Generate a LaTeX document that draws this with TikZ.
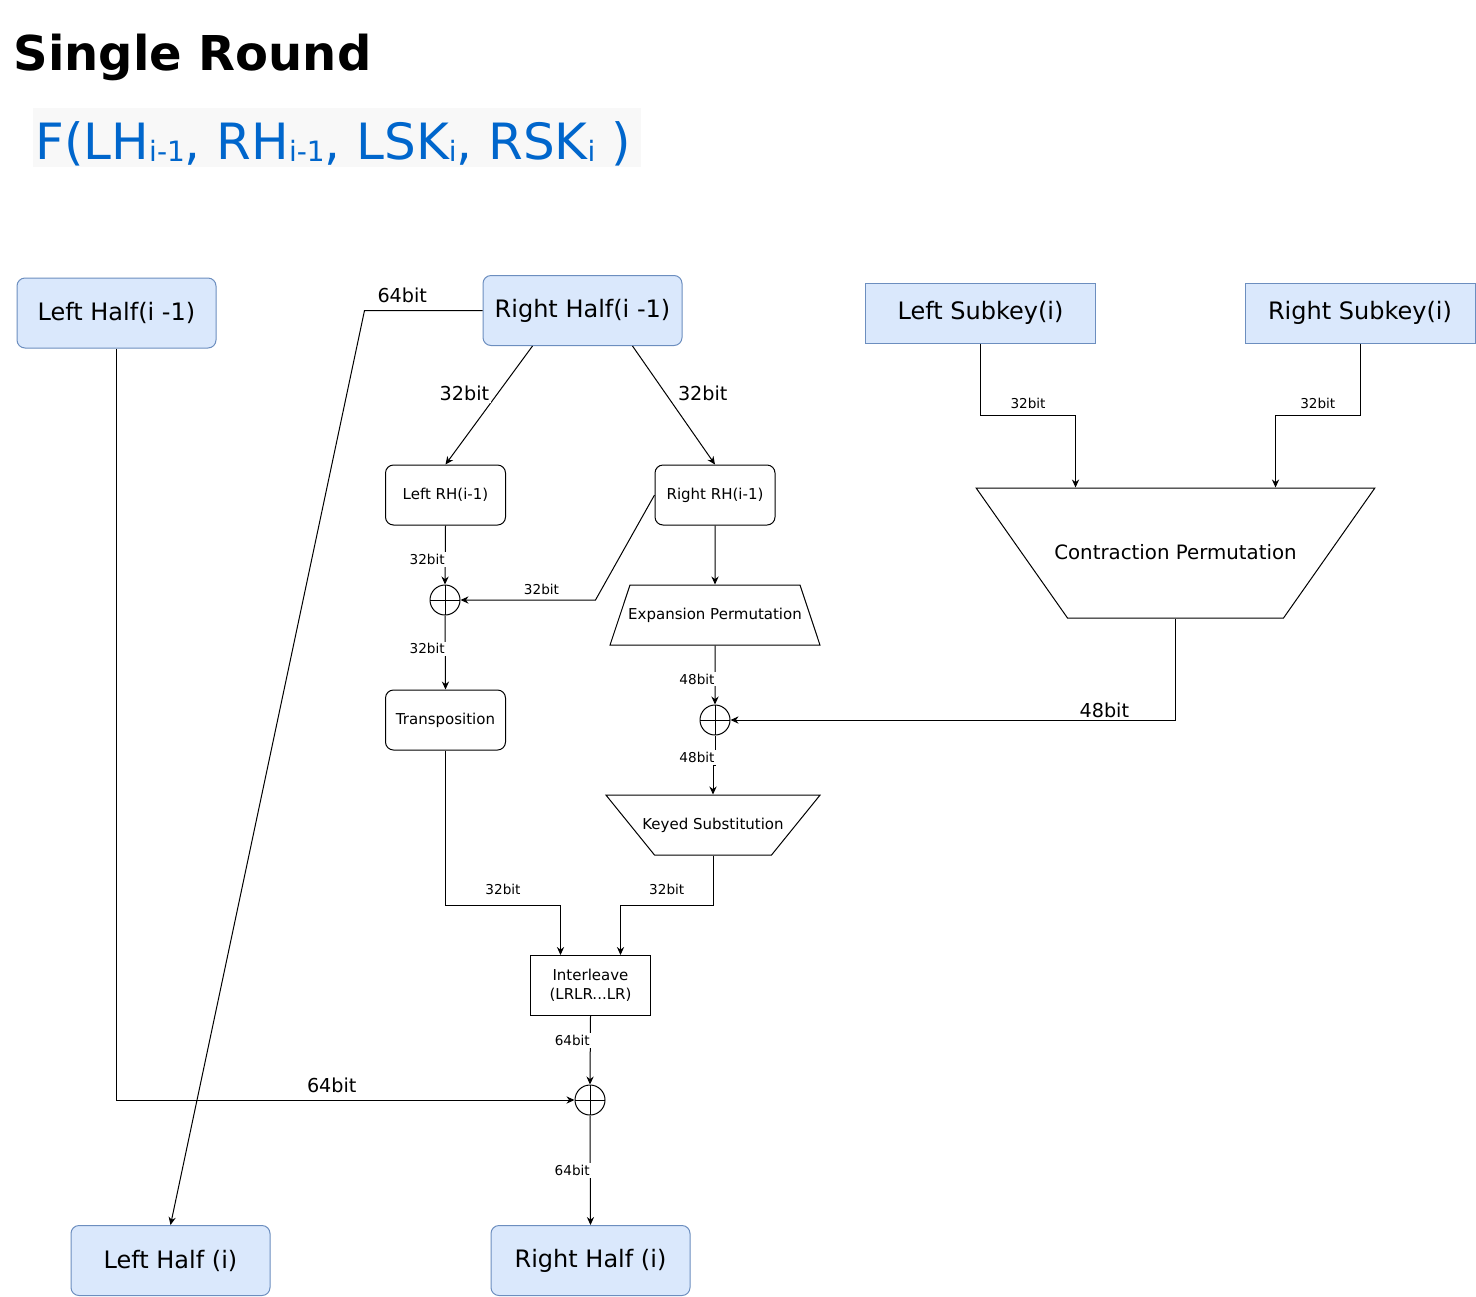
\documentclass[tikz,border=0pt]{standalone}
\usepackage{fontspec}
\setmainfont{DejaVu Sans}
\usepackage{xcolor}
\usepackage{tikz}
\usetikzlibrary{arrows.meta,positioning,calc,shapes.geometric}
\definecolor{srBlue}{HTML}{0066CC}
\definecolor{srFill}{HTML}{DAE8FC}
\definecolor{srEdge}{HTML}{6C8EBF}
\definecolor{srPaper}{HTML}{F8F8F8}
\newcommand{\sbs}[1]{\raisebox{-1pt}{\fontsize{14}{14}\selectfont #1}}
\newcommand{\permtext}[4]{\makebox[#1]{\rule[#2]{0pt}{#3}#4}}
\tikzset{
  half box/.style={draw=srEdge,fill=srFill,rounded corners=4pt,minimum width=99.5pt,minimum height=35pt,
    inner sep=0pt,font=\fontsize{12}{14}\selectfont},
  key box/.style={half box,rounded corners=0pt,minimum width=115pt,minimum height=30pt},
  stage box/.style={draw,rounded corners=4pt,minimum width=60pt,minimum height=30pt,inner sep=0pt,
    align=center,font=\fontsize{7.5}{9.5}\selectfont},
  perm box/.style={draw,trapezium,inner sep=0pt,font=\fontsize{7.5}{9}\selectfont},
  xor op/.style={draw,circle,minimum size=15pt,inner sep=0pt,path picture={
    \draw (path picture bounding box.north) -- (path picture bounding box.south)
          (path picture bounding box.west) -- (path picture bounding box.east);}},
  bit small/.style={font=\fontsize{6.8}{8}\selectfont,inner sep=1pt,fill=white},
  bit large/.style={font=\fontsize{9.6}{11}\selectfont,inner sep=1pt,fill=white},
  diagram arrow/.style={-{Stealth[length=4pt,width=3.6pt]}}
}
\begin{document}
\begin{tikzpicture}[x=0.5pt,y=-0.5pt,line width=0.5pt]
\useasboundingbox (0,0) rectangle (1476,1296);
\fill[srPaper] (33,108) rectangle (641,167);
\node[anchor=base west,inner sep=0pt,font=\fontsize{24}{28}\selectfont\bfseries] (title) at (13,70) {Single Round};
\node[anchor=base west,inner sep=0pt,text=srBlue,font=\fontsize{25}{30}\selectfont] (func) at (35,159)
  {F(LH\sbs{i-1}, RH\sbs{i-1}, LSK\sbs{i}, RSK\sbs{i} )};
\node[half box] (lh) at (116.5,313) {Left Half(i -1)};
\node[half box] (rh) at (582.5,310.5) {Right Half(i -1)};
\node[key box] (lsk) at (980.5,313) {Left Subkey(i)};
\node[key box] (rsk) at (1360,313) {Right Subkey(i)};
\node[stage box] (lrh) at (445.5,495) {Left RH(i-1)};
\node[stage box] (rrh) at (715,495) {Right RH(i-1)};
\node[xor op] (x1) at (445,600) {};
\node[perm box,trapezium left angle=71.6,trapezium right angle=71.6]
  (ep) at (715,615) {\permtext{85pt}{-13pt}{30pt}{Expansion Permutation}};
\node[stage box] (tr) at (445.5,720) {Transposition};
\node[xor op] (x2) at (715,720) {};
\node[perm box,trapezium left angle=129,trapezium right angle=129]
  (ks) at (713,825) {\permtext{58.5pt}{-13pt}{30pt}{Keyed Substitution}};
\node[perm box,trapezium left angle=125.1,trapezium right angle=125.1,font=\fontsize{9.9}{12}\selectfont]
  (cp) at (1175.5,553) {\permtext{108pt}{-29.5pt}{65pt}{Contraction Permutation}};
\node[stage box,rounded corners=0pt] (il) at (590.5,985.5) {Interleave\\(LRLR...LR)};
\node[xor op] (x3) at (590,1100) {};
\node[half box] (lhi) at (170.5,1260.5) {Left Half (i)};
\node[half box] (rhi) at (590.5,1260.5) {Right Half (i)};
\draw[diagram arrow] (lh.south) |- node[bit large,above=2.5pt,pos=0.735] {64bit} (x3.west);
\draw[diagram arrow] (rh.west) -- node[bit large,above=2.5pt,pos=0.68] {64bit} ++(-118,0) -- (lhi.north);
\draw[diagram arrow] ([xshift=-25pt]rh.south) -- node[bit large,left=3pt,pos=0.4] {32bit} (lrh.north);
\draw[diagram arrow] ([xshift=25pt]rh.south) -- node[bit large,right=5pt,pos=0.4] {32bit} (rrh.north);
\draw[diagram arrow] (lrh.south) -- node[bit small,left=-1pt,pos=0.58] {32bit} (x1.north);
\draw[diagram arrow] (rrh.west) -- ++(-59,105) -- node[bit small,above=1.5pt,pos=0.4] {32bit} (x1.east);
\draw[diagram arrow] (x1.south) -- node[bit small,left=-1pt,pos=0.45] {32bit} (tr.north);
\draw[diagram arrow] (rrh.south) -- (ep.north);
\draw[diagram arrow] (ep.south) -- node[bit small,left=-1pt,pos=0.57] {48bit} (x2.north);
\draw[diagram arrow] (cp.south) |- node[bit large,above,pos=0.58] {48bit} (x2.east);
\draw[diagram arrow] (x2.south) -- node[bit small,left=-1pt,pos=0.73] {48bit} ++(0,30) -| (ks.north);
\draw[diagram arrow] (tr.south) -- ++(0,155) -| node[bit small,above=4pt,pos=0.25] {32bit} ([xshift=-15pt]il.north);
\draw[diagram arrow] (ks.south) -- ++(0,50) -| node[bit small,above=4pt,pos=0.25] {32bit} ([xshift=15pt]il.north);
\draw[diagram arrow] (il.south) -- node[bit small,left=-1pt,pos=0.36] {64bit} (x3.north);
\draw[diagram arrow] (x3.south) -- node[bit small,left=-1pt,pos=0.5] {64bit} (rhi.north);
\draw[diagram arrow] (lsk.south) -- ++(0,72) -| node[bit small,above=2pt,pos=0.25] {32bit} ([xshift=-50pt]cp.north);
\draw[diagram arrow] (rsk.south) -- ++(0,72) -| node[bit small,above=2pt,pos=0.25] {32bit} ([xshift=50pt]cp.north);
\end{tikzpicture}
\end{document}
